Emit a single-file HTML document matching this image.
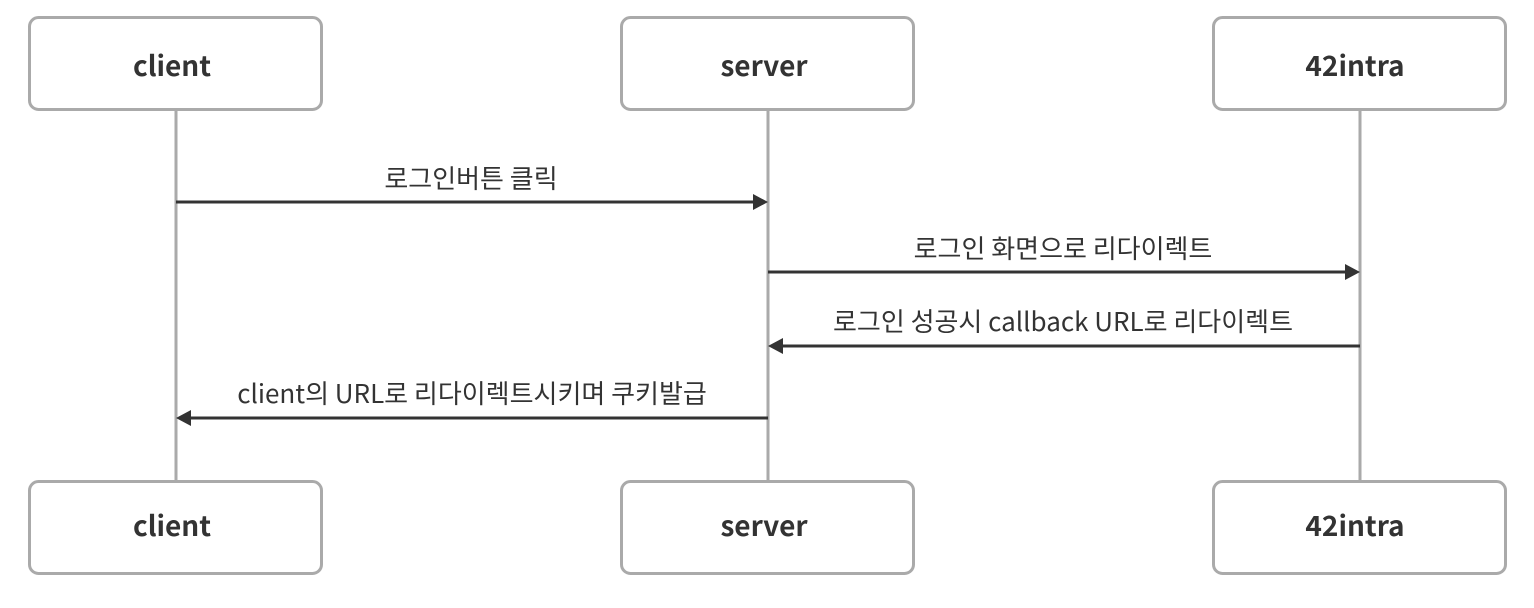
<!DOCTYPE html>
<html><head><meta charset="utf-8"><style>
body{margin:0;background:#fff;}
svg{display:block;}
text{font-family:"Noto Sans CJK KR","Liberation Sans",sans-serif;fill:#333;}
.b{font-weight:bold;font-size:28px;}
.l{font-size:26px;}
</style></head><body>
<svg width="1534" height="608" viewBox="0 0 1534 608">
<g stroke="#aaa" stroke-width="3">
<line x1="176" y1="109" x2="176" y2="481"/>
<line x1="768" y1="109" x2="768" y2="481"/>
<line x1="1360" y1="109" x2="1360" y2="481"/>
</g>
<g fill="#fff" stroke="#aaa" stroke-width="3">
<rect x="29.5" y="17.5" width="292" height="92" rx="9"/>
<rect x="621.5" y="17.5" width="292" height="92" rx="9"/>
<rect x="1213.5" y="17.5" width="292" height="92" rx="9"/>
<rect x="29.5" y="481.5" width="292" height="92" rx="9"/>
<rect x="621.5" y="481.5" width="292" height="92" rx="9"/>
<rect x="1213.5" y="481.5" width="292" height="92" rx="9"/>
</g>
<g class="b" text-anchor="middle">
<text x="172" y="76">client</text>
<text x="764" y="76">server</text>
<text x="1355" y="76">42intra</text>
<text x="172" y="536">client</text>
<text x="764" y="536">server</text>
<text x="1355" y="536">42intra</text>
</g>
<g stroke="#333" stroke-width="3">
<line x1="176" y1="202" x2="755" y2="202"/>
<line x1="768" y1="272" x2="1347" y2="272"/>
<line x1="1360" y1="346" x2="781" y2="346"/>
<line x1="768" y1="418" x2="189" y2="418"/>
</g>
<g fill="#333">
<polygon points="768,202 753,194 753,210"/>
<polygon points="1360,272 1345,264 1345,280"/>
<polygon points="768,346 783,338 783,354"/>
<polygon points="176,418 191,410 191,426"/>
</g>
<g class="l" text-anchor="middle">
<text x="471" y="188">로그인버튼 클릭</text>
<text x="1063" y="258">로그인 화면으로 리다이렉트</text>
<text x="1063" y="331">로그인 성공시 callback URL로 리다이렉트</text>
<text x="472" y="403">client의 URL로 리다이렉트시키며 쿠키발급</text>
</g>
</svg>
</body></html>
